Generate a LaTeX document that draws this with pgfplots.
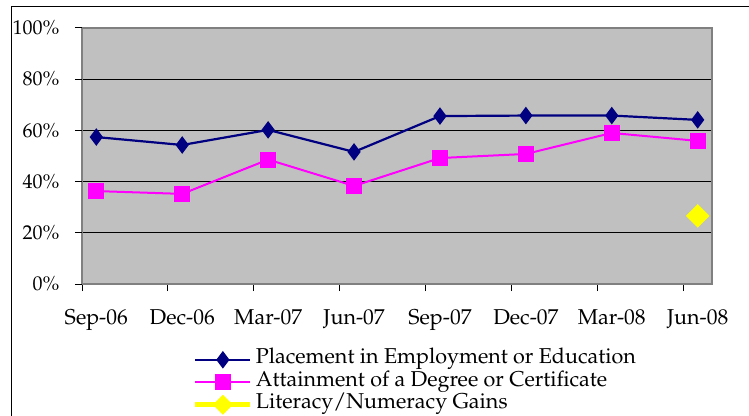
\documentclass[border=0pt]{standalone}
\usepackage[T1]{fontenc}
\usepackage{mathpazo}
\usepackage{pgfplots}
\pgfplotsset{compat=1.18}
\definecolor{navyb}{HTML}{000080}
\definecolor{magen}{HTML}{FF00FF}
\definecolor{yel}{HTML}{FFFF00}
\definecolor{plotgray}{HTML}{C0C0C0}
\definecolor{bordergray}{HTML}{808080}
\begin{document}
\begin{tikzpicture}
\path[use as bounding box] (-82bp,-132bp) rectangle (667bp,284bp);
\draw[black, line width=1bp] (-70bp,-150bp) rectangle (700bp,277bp);
\begin{axis}[
  at={(0,0)}, anchor=south west,
  scale only axis, width=630bp, height=256bp,
  xmin=0, xmax=22, ymin=0, ymax=100,
  clip=false,
  axis background/.style={fill=plotgray},
  axis line style={draw=bordergray, line width=1.5bp},
  ytick={0,20,...,100},
  yticklabel={\pgfmathprintnumber{\tick}\%},
  ymajorgrids,
  major grid style={black, line width=0.8bp},
  xtick={0.5,3.5,...,21.5},
  xticklabels={Sep-06,Dec-06,Mar-07,Jun-07,Sep-07,Dec-07,Mar-08,Jun-08},
  minor xtick={0,3,...,21},
  xtick pos=bottom, ytick pos=left,
  xtick align=outside, ytick align=outside,
  major tick length=7bp, minor tick length=7bp,
  xtick style={draw=black, line width=1bp},
  ytick style={draw=black, line width=1bp},
  x tick style={/pgfplots/major tick length=0pt},
  tick label style={font=\fontsize{21.5bp}{24bp}\selectfont, text=black},
  xticklabel style={yshift=-15bp},
  yticklabel style={xshift=-12bp, font=\fontsize{20bp}{24bp}\selectfont},
  /pgf/number format/assume math mode=true,
  legend style={at={(0.176,-0.252)}, anchor=north west, draw=none, fill=none,
    inner sep=0pt, outer sep=0pt, column sep=3bp, row sep=0pt,
    font=\fontsize{21.5bp}{24bp}\selectfont,
    nodes={inner sep=0pt, text height=15bp, text depth=7.5bp},
    cells={anchor=west}},
  legend image code/.code={\draw[mark repeat=2,mark phase=2,#1] plot coordinates {(0bp,0bp) (27.5bp,0bp) (55bp,0bp)};},
]
\pgfplotsinvokeforeach{0,20,40,60,80,100}{
  \draw[black, line width=1bp] (axis cs:0,#1) -- ++(-7bp,0pt);
}
\addplot[navyb, line width=2.2bp, mark=diamond*, mark size=7bp, mark options={solid, fill=navyb}]
  coordinates {(0.5,57.4) (3.5,54.3) (6.5,60.2) (9.5,51.6) (12.5,65.6) (15.5,65.8) (18.5,65.8) (21.5,64.1)};
\addlegendentry{Placement in Employment or Education}
\addplot[magen, line width=2bp, mark=square*, mark size=7bp, mark options={solid, fill=magen}]
  coordinates {(0.5,36.3) (3.5,35.2) (6.5,48.6) (9.5,38.3) (12.5,49.2) (15.5,50.8) (18.5,59.0) (21.5,55.9)};
\addlegendentry{Attainment of a Degree or Certificate}
\addlegendimage{yel, line width=5bp, mark=square*, mark size=4.5bp, mark options={solid, fill=yel, rotate=45}}
\addlegendentry{Literacy/Numeracy Gains}
\addplot[yel, only marks, mark=square*, mark size=8.1bp, mark options={solid, fill=yel, rotate=45}, forget plot]
  coordinates {(21.5,26.6)};
\end{axis}
\end{tikzpicture}
\end{document}
